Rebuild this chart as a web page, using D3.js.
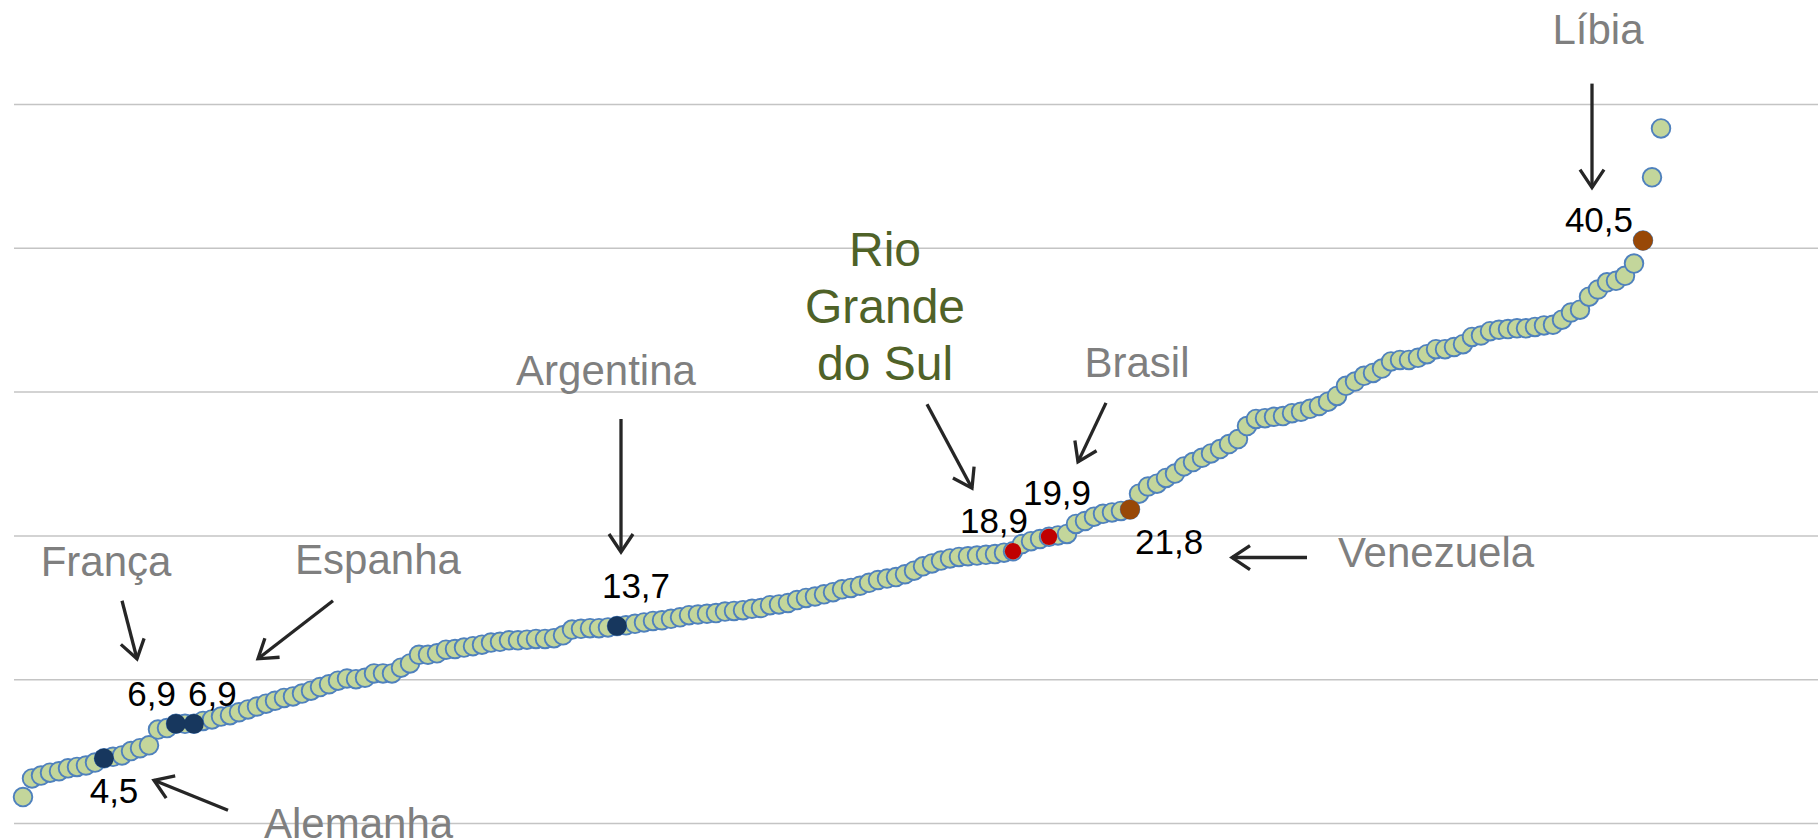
<!DOCTYPE html>
<html>
<head>
<meta charset="utf-8">
<script src="https://cdn.jsdelivr.net/npm/d3@7"></script>
<style>
  body { margin: 0; background: #ffffff; }
  svg { display: block; font-family: "Liberation Sans", Arial, sans-serif; }
</style>
</head>
<body>
<div id="chart"></div>
<script>
// values sorted ascending, one per country (rank = index)
const rates = [
  1.8, 3.1, 3.3, 3.5, 3.6, 3.8, 3.9, 4.0, 4.2, 4.5,
  4.6, 4.7, 5.0, 5.2, 5.4, 6.5, 6.6, 6.9, 6.9, 6.9,
  7.1, 7.2, 7.4, 7.5, 7.7, 7.9, 8.1, 8.3, 8.5, 8.7,
  8.8, 9.0, 9.2, 9.45, 9.65, 9.9, 10.05, 10.0, 10.1, 10.4,
  10.4, 10.4, 10.8, 11.1, 11.7, 11.7, 11.8, 12.05, 12.1, 12.2,
  12.3, 12.4, 12.55, 12.6, 12.7, 12.7, 12.75, 12.8, 12.8, 12.85,
  13.05, 13.45, 13.5, 13.55, 13.55, 13.6, 13.7, 13.75, 13.85, 13.95,
  14.05, 14.1, 14.2, 14.3, 14.45, 14.5, 14.55, 14.6, 14.7, 14.75,
  14.8, 14.9, 14.95, 15.15, 15.2, 15.3, 15.5, 15.65, 15.75, 15.9,
  16.05, 16.25, 16.35, 16.5, 16.7, 16.9, 17.0, 17.1, 17.3, 17.55,
  17.85, 18.05, 18.25, 18.4, 18.5, 18.55, 18.6, 18.65, 18.7, 18.8,
  18.9, 19.4, 19.6, 19.75, 19.9, 20.0, 20.1, 20.8, 21.0, 21.3,
  21.5, 21.6, 21.7, 21.8, 22.9, 23.4, 23.6, 24.0, 24.3, 24.8,
  25.1, 25.4, 25.7, 26.0, 26.35, 26.7, 27.6, 28.1, 28.15, 28.25,
  28.3, 28.5, 28.6, 28.8, 29.0, 29.3, 29.7, 30.4, 30.7, 31.1,
  31.3, 31.6, 32.1, 32.2, 32.2, 32.35, 32.6, 32.95, 32.95, 33.1,
  33.3, 33.8, 33.9, 34.2, 34.3, 34.35, 34.4, 34.4, 34.5, 34.6,
  34.65, 35.0, 35.5, 35.7, 36.6, 37.1, 37.6, 37.7, 38.05, 38.9,
  40.5, 44.9, 48.3
];

const highlightNames = ["Alemanha", "França", "Espanha", "Argentina", "Rio Grande do Sul", "Brasil", "Venezuela", "Líbia"];
const highlightRanks = [9, 17, 19, 66, 110, 114, 123, 180];
const highlightValues = [4.5, 6.9, 6.9, 13.7, 18.9, 19.9, 21.8, 40.5];
const highlightGroups = ["world", "world", "world", "world", "brazil", "brazil", "peak", "peak"];

const gridTicks = [0, 10, 20, 30, 40, 50];

const width = 1818;
const height = 839;

const groupColor = d3.scaleOrdinal()
  .domain(["world", "brazil", "peak"])
  .range(["#17375e", "#c00000", "#984807"]);

// label / arrow placement around each highlighted point (pixel offsets)
const annotationLayout = [
  { val: [10, 45, "middle"],  arrow: [124, 52, 50, 22],    name: [160, 80, "start"] },
  { val: [0, -18, "end"],     arrow: [-54, -123, -39, -65], name: [-70, -148, "middle"] },
  { val: [-6, -18, "start"],  arrow: [139, -123, 64, -65],  name: [184, -150, "middle"] },
  { val: [19, -28, "middle"], arrow: [4, -207, 4, -74],     name: [-11, -241, "middle"] },
  { val: [-19, -18, "middle"], arrow: [-86, -147, -41, -63], name: [-128, -285, "middle"] },
  { val: [8, -32, "middle"],  arrow: [57, -134, 29, -75],   name: [88, -160, "middle"] },
  { val: [5, 44, "start"],    arrow: [177, 48, 102, 48],    name: [306, 57, "middle"] },
  { val: [-10, -9, "end"],    arrow: [-51, -157, -51, -53], name: [-45, -197, "middle"] }
];

const locale = d3.formatLocale({ decimal: ",", thousands: ".", grouping: [3], currency: ["R$", ""] });
const fmt = locale.format(".1f");

const x = d3.scaleLinear().domain([0, rates.length - 1]).range([23, 1661]);
const y = d3.scaleLinear().domain([0, 50]).range([823, 104]);

const svg = d3.select("#chart")
  .append("svg")
  .attr("width", width)
  .attr("height", height);

svg.append("rect").attr("width", width).attr("height", height).attr("fill", "#ffffff");

svg.append("defs")
  .append("marker")
  .attr("id", "arrowhead")
  .attr("viewBox", "-21 -15 25 30")
  .attr("refX", 0)
  .attr("refY", 0)
  .attr("markerWidth", 25)
  .attr("markerHeight", 30)
  .attr("markerUnits", "userSpaceOnUse")
  .attr("orient", "auto")
  .append("path")
  .attr("d", "M-18,-12L0,0L-18,12")
  .attr("fill", "none")
  .attr("stroke", "#262626")
  .attr("stroke-width", 3.3);

// gridlines
const grid = svg.append("g")
  .attr("transform", "translate(14,0)")
  .call(d3.axisLeft(y).tickValues(gridTicks).tickSize(-(width - 14)).tickFormat(""));
grid.select(".domain").remove();
grid.selectAll(".tick line")
  .attr("stroke", "#c4c4c4")
  .attr("stroke-width", 1.5);

// all countries
svg.append("g")
  .selectAll("circle")
  .data(rates)
  .enter()
  .append("circle")
  .attr("cx", function (d, i) { return x(i); })
  .attr("cy", function (d) { return y(d); })
  .attr("r", 9.3)
  .attr("fill", "#c3d69b")
  .attr("stroke", "#4f81bd")
  .attr("stroke-width", 1.9);

const highlights = highlightNames.map(function (name, i) {
  return {
    name: name,
    rank: highlightRanks[i],
    value: highlightValues[i],
    group: highlightGroups[i],
    layout: annotationLayout[i]
  };
});

svg.append("g")
  .selectAll("circle")
  .data(highlights)
  .enter()
  .append("circle")
  .attr("cx", function (d) { return x(d.rank); })
  .attr("cy", function (d) { return y(d.value); })
  .attr("r", function (d) { return d.group === "brazil" ? 8.2 : 9.8; })
  .attr("fill", function (d) { return groupColor(d.group); });

const notes = svg.append("g");

highlights.forEach(function (d) {
  const px = x(d.rank);
  const py = y(d.value);
  const L = d.layout;

  notes.append("text")
    .attr("x", px + L.val[0])
    .attr("y", py + L.val[1])
    .attr("text-anchor", L.val[2])
    .attr("font-size", 35)
    .attr("fill", "#000000")
    .text(fmt(d.value));

  notes.append("line")
    .attr("x1", px + L.arrow[0])
    .attr("y1", py + L.arrow[1])
    .attr("x2", px + L.arrow[2])
    .attr("y2", py + L.arrow[3])
    .attr("stroke", "#262626")
    .attr("stroke-width", 3.3)
    .attr("marker-end", "url(#arrowhead)");

  if (d.name === "Rio Grande do Sul") {
    const lines = ["Rio", "Grande", "do Sul"];
    notes.append("g")
      .selectAll("text")
      .data(lines)
      .enter()
      .append("text")
      .attr("x", px + L.name[0])
      .attr("y", function (t, j) { return py + L.name[1] + j * 57; })
      .attr("text-anchor", "middle")
      .attr("font-size", 48)
      .attr("fill", "#4f6228")
      .text(function (t) { return t; });
  } else {
    notes.append("text")
      .attr("x", px + L.name[0])
      .attr("y", py + L.name[1])
      .attr("text-anchor", L.name[2])
      .attr("font-size", 42)
      .attr("fill", "#7f7f7f")
      .text(d.name);
  }
});
</script>
</body>
</html>
